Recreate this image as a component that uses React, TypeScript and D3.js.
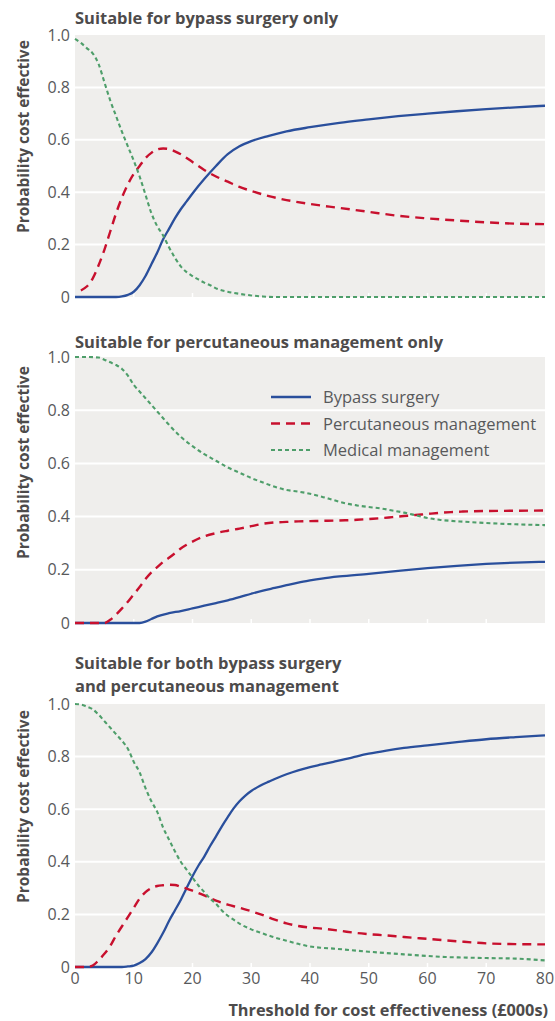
import React from "react";
import * as d3 from "d3";

type Pt = [number, number];

const xTicks = [0, 10, 20, 30, 40, 50, 60, 70, 80];
const yTicks = [0, 0.2, 0.4, 0.6, 0.8, 1.0];
const yTickLabels = ["0", "0.2", "0.4", "0.6", "0.8", "1.0"];
const seriesNames = ["Bypass surgery", "Percutaneous management", "Medical management"];
const panelTitles = [
  ["Suitable for bypass surgery only"],
  ["Suitable for percutaneous management only"],
  ["Suitable for both bypass surgery", "and percutaneous management"],
];
const yAxisTitle = "Probability cost effective";
const xAxisTitle = "Threshold for cost effectiveness (£000s)";

// Panel 1: suitable for bypass surgery only
const p1Bypass: Pt[] = [
  [0, 0], [7, 0], [8, 0.002], [9, 0.008], [10, 0.02], [11, 0.045], [12, 0.08], [13, 0.125],
  [14, 0.17], [15, 0.22], [16, 0.26], [17, 0.3], [18, 0.335], [19, 0.365], [20, 0.395],
  [22, 0.45], [24, 0.5], [26, 0.545], [28, 0.575], [30, 0.595], [33, 0.615], [36, 0.632],
  [40, 0.648], [45, 0.665], [50, 0.678], [55, 0.69], [60, 0.7], [65, 0.709], [70, 0.717],
  [75, 0.724], [80, 0.73],
];
const p1Percut: Pt[] = [
  [1, 0.025], [2, 0.04], [3, 0.07], [4, 0.12], [5, 0.18], [6, 0.25], [7, 0.32], [8, 0.38],
  [9, 0.43], [10, 0.47], [11, 0.5], [12, 0.53], [13, 0.55], [14, 0.563], [15, 0.567],
  [16, 0.565], [17, 0.556], [18, 0.545], [20, 0.515], [22, 0.485], [24, 0.46], [26, 0.44],
  [28, 0.42], [30, 0.405], [33, 0.385], [36, 0.37], [40, 0.355], [45, 0.34], [50, 0.325],
  [55, 0.31], [60, 0.3], [65, 0.292], [70, 0.285], [75, 0.28], [80, 0.278],
];
const p1Medical: Pt[] = [
  [0, 0.985], [1, 0.97], [2, 0.95], [3, 0.93], [4, 0.89], [5, 0.82], [6, 0.75], [7, 0.69],
  [8, 0.63], [9, 0.575], [10, 0.52], [11, 0.46], [12, 0.39], [13, 0.32], [14, 0.27],
  [15, 0.235], [16, 0.19], [17, 0.15], [18, 0.117], [19, 0.095], [20, 0.08], [21, 0.067],
  [22, 0.055], [23, 0.045], [24, 0.033], [26, 0.02], [28, 0.012], [30, 0.006], [32, 0.002],
  [34, 0], [40, 0], [50, 0], [60, 0], [70, 0], [80, 0],
];

// Panel 2: suitable for percutaneous management only
const p2Bypass: Pt[] = [
  [0, 0], [11, 0], [12, 0.005], [13, 0.015], [14, 0.025], [16, 0.037], [18, 0.045],
  [20, 0.055], [22, 0.065], [24, 0.075], [26, 0.085], [28, 0.097], [30, 0.11], [32, 0.122],
  [34, 0.132], [36, 0.142], [38, 0.152], [40, 0.16], [42, 0.167], [45, 0.175], [50, 0.185],
  [55, 0.196], [60, 0.206], [65, 0.215], [70, 0.222], [75, 0.227], [80, 0.23],
];
const p2Percut: Pt[] = [
  [0, 0], [5, 0], [6, 0.012], [7, 0.032], [8, 0.055], [9, 0.08], [10, 0.108], [11, 0.135],
  [12, 0.165], [13, 0.19], [14, 0.21], [15, 0.23], [16, 0.245], [17, 0.262], [18, 0.28],
  [19, 0.294], [20, 0.306], [22, 0.326], [24, 0.338], [26, 0.347], [28, 0.355], [30, 0.364],
  [32, 0.373], [34, 0.378], [36, 0.38], [38, 0.382], [40, 0.383], [42, 0.384], [44, 0.385],
  [46, 0.386], [48, 0.388], [50, 0.391], [52, 0.394], [54, 0.398], [56, 0.402], [58, 0.406],
  [60, 0.41], [62, 0.414], [64, 0.417], [66, 0.419], [70, 0.421], [75, 0.422], [80, 0.423],
];
const p2Medical: Pt[] = [
  [0, 1], [2, 1], [4, 0.998], [5, 0.99], [6, 0.98], [7, 0.97], [8, 0.955], [9, 0.93],
  [10, 0.895], [11, 0.87], [12, 0.845], [13, 0.82], [14, 0.795], [15, 0.77], [16, 0.745],
  [18, 0.7], [20, 0.665], [22, 0.635], [24, 0.61], [26, 0.585], [28, 0.565], [30, 0.545],
  [32, 0.528], [34, 0.512], [36, 0.5], [38, 0.494], [40, 0.486], [42, 0.475], [44, 0.462],
  [46, 0.45], [48, 0.442], [50, 0.436], [52, 0.431], [54, 0.423], [56, 0.415], [58, 0.405],
  [60, 0.395], [62, 0.388], [64, 0.384], [66, 0.381], [70, 0.376], [75, 0.371], [80, 0.368],
];

// Panel 3: suitable for both
const p3Bypass: Pt[] = [
  [0, 0], [8, 0], [9, 0.002], [10, 0.005], [11, 0.015], [12, 0.03], [13, 0.055], [14, 0.09],
  [15, 0.13], [16, 0.175], [17, 0.215], [18, 0.255], [19, 0.3], [20, 0.345], [21, 0.385],
  [22, 0.42], [23, 0.46], [24, 0.497], [25, 0.535], [26, 0.57], [27, 0.603], [28, 0.63],
  [29, 0.652], [30, 0.669], [31, 0.683], [32, 0.695], [33, 0.705], [34, 0.715], [36, 0.733],
  [38, 0.748], [40, 0.76], [42, 0.77], [44, 0.78], [46, 0.79], [48, 0.801], [50, 0.811],
  [53, 0.823], [56, 0.833], [60, 0.843], [65, 0.855], [70, 0.866], [75, 0.874], [80, 0.881],
];
const p3Percut: Pt[] = [
  [0, 0], [2, 0], [3, 0.005], [4, 0.025], [5, 0.05], [6, 0.08], [7, 0.12], [8, 0.155],
  [9, 0.19], [10, 0.225], [11, 0.26], [12, 0.285], [13, 0.3], [14, 0.308], [15, 0.311],
  [16, 0.313], [17, 0.312], [18, 0.305], [19, 0.298], [20, 0.29], [22, 0.272], [24, 0.252],
  [26, 0.237], [28, 0.225], [30, 0.212], [32, 0.197], [34, 0.18], [36, 0.166], [38, 0.156],
  [40, 0.15], [42, 0.146], [45, 0.138], [48, 0.129], [50, 0.125], [53, 0.12], [56, 0.114],
  [60, 0.107], [65, 0.098], [70, 0.09], [75, 0.087], [80, 0.086],
];
const p3Medical: Pt[] = [
  [0, 1.0], [1, 0.998], [2, 0.99], [3, 0.98], [4, 0.96], [5, 0.935], [6, 0.91], [7, 0.885],
  [8, 0.86], [9, 0.83], [10, 0.78], [11, 0.74], [12, 0.68], [13, 0.63], [14, 0.59],
  [15, 0.53], [16, 0.485], [17, 0.44], [18, 0.4], [19, 0.37], [20, 0.34], [21, 0.31],
  [22, 0.285], [23, 0.26], [24, 0.24], [25, 0.215], [26, 0.195], [27, 0.18], [28, 0.165],
  [30, 0.143], [32, 0.127], [34, 0.112], [36, 0.1], [38, 0.088], [40, 0.078], [42, 0.073],
  [44, 0.07], [47, 0.064], [50, 0.058], [53, 0.053], [56, 0.048], [60, 0.042], [63, 0.038],
  [66, 0.036], [70, 0.034], [75, 0.032], [80, 0.025],
];

const panelData: Pt[][][] = [
  [p1Bypass, p1Percut, p1Medical],
  [p2Bypass, p2Percut, p2Medical],
  [p3Bypass, p3Percut, p3Medical],
];

// ---- Layout & style ----
const W = 555;
const H = 1021;
const plotLeft = 75;
const plotRight = 545;
const panelTop = [35, 357, 704];
const panelBottom = [297, 623, 967];
const titleBaselines = [[24], [348], [669, 692]];
const bg = "#efeeec";
const textCol = "#58595b";
const titleCol = "#4d4b4b";
const colors = ["#2a4f9c", "#c8102e", "#4e9e6a"];
const widths = [2.3, 2.4, 2.1];
const dashes = ["", "9,6", "4,3"];
const tickFont = "'Open Sans', 'Lato', sans-serif";
const boldFont = "'Open Sans', 'Lato', sans-serif";

const x = d3.scaleLinear().domain([0, 80]).range([plotLeft, plotRight]);

export default function App() {
  return (
    <svg width={W} height={H} style={{ position: "absolute", left: 0, top: 0 }}>
      <rect x={0} y={0} width={W} height={H} fill="#ffffff" />
      {panelData.map((series, pi) => {
        const y = d3.scaleLinear().domain([0, 1]).range([panelBottom[pi], panelTop[pi]]);
        const line = d3
          .line<Pt>()
          .x((d) => x(d[0]))
          .y((d) => y(d[1]))
          .curve(d3.curveMonotoneX);
        const yTitleStart = panelBottom[pi] - 64;
        return (
          <g key={pi}>
            <rect
              x={plotLeft}
              y={panelTop[pi]}
              width={plotRight - plotLeft}
              height={panelBottom[pi] - panelTop[pi]}
              fill={bg}
            />
            {yTicks.slice(1, -1).map((t) => (
              <line key={t} x1={plotLeft} x2={plotRight} y1={y(t)} y2={y(t)} stroke="#ffffff" strokeWidth={2} />
            ))}
            {xTicks.slice(1, -1).map((t) => (
              <line key={t} x1={x(t)} x2={x(t)} y1={panelBottom[pi]} y2={panelBottom[pi] - 4} stroke="#ffffff" strokeWidth={1.5} />
            ))}
            {yTicks.map((t, i) => (
              <text
                key={t}
                x={70}
                y={y(t) + 5.5}
                textAnchor="end"
                fontFamily={tickFont}
                fontSize={16}
                fill={textCol}
              >
                {yTickLabels[i]}
              </text>
            ))}
            {titleBaselines[pi].map((b, li) => (
              <text
                key={li}
                x={plotLeft}
                y={b}
                fontFamily={boldFont}
                fontWeight={700}
                fontSize={16.5}
                fill={titleCol}
              >
                {panelTitles[pi][li]}
              </text>
            ))}
            <text
              transform={`translate(29,${yTitleStart}) rotate(-90)`}
              fontFamily={boldFont}
              fontWeight={700}
              fontSize={15.5}
              fill={titleCol}
            >
              {yAxisTitle}
            </text>
            {series.map((s, si) => (
              <path
                key={si}
                d={line(s) || ""}
                fill="none"
                stroke={colors[si]}
                strokeWidth={widths[si]}
                strokeDasharray={dashes[si] || undefined}
                strokeLinejoin="round"
              />
            ))}
          </g>
        );
      })}
      {seriesNames.map((name, i) => {
        const ly = 397 + i * 26.5;
        return (
          <g key={name}>
            <line x1={271} x2={311} y1={ly} y2={ly} stroke={colors[i]} strokeWidth={widths[i]} strokeDasharray={dashes[i] || undefined} />
            <text x={323} y={ly + 6} fontFamily={tickFont} fontSize={16.5} fill={textCol}>
              {name}
            </text>
          </g>
        );
      })}
      {xTicks.map((t) => (
        <text key={t} x={x(t)} y={984} textAnchor="middle" fontFamily={tickFont} fontSize={16} fill={textCol}>
          {t}
        </text>
      ))}
      <text x={548} y={1016} textAnchor="end" fontFamily={boldFont} fontWeight={700} fontSize={16.3} fill={titleCol}>
        {xAxisTitle}
      </text>
    </svg>
  );
}
